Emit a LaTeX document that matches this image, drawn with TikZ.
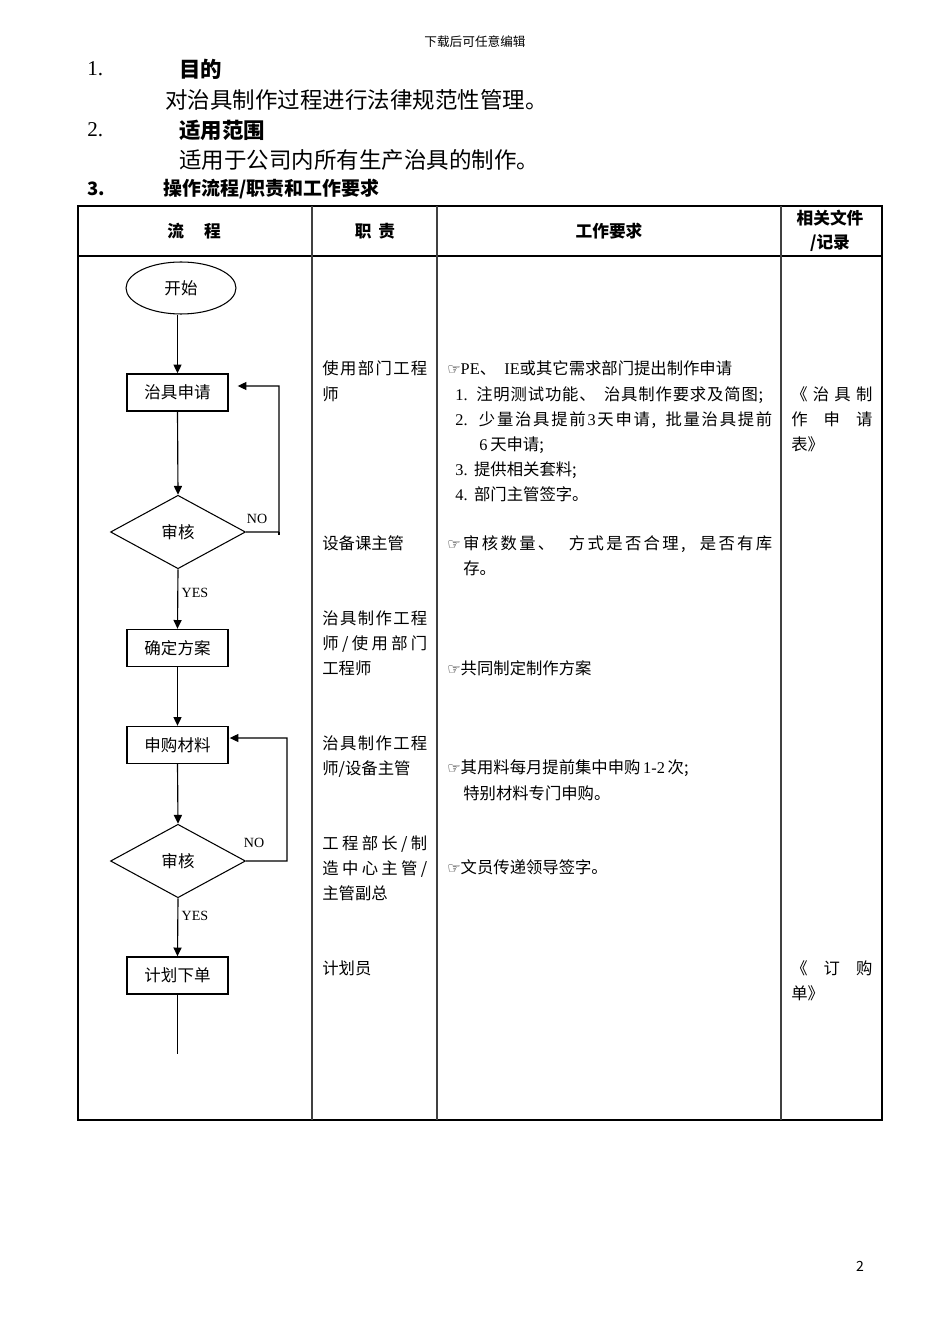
\documentclass[tikz,border=0pt]{standalone}
\usepackage{fontspec}
\setmainfont{Noto Sans CJK SC}
\newfontfamily\lat{Liberation Serif}
\newfontfamily\dv{DejaVu Sans}
\usetikzlibrary{shapes.geometric,arrows.meta}
\newcommand\fsz[1]{\fontsize{#1}{#1}\selectfont}
\newcommand\jl[2]{\makebox[#1][s]{\spaceskip=0pt plus 1fil\relax #2}}
\newcommand\hand{{\dv\fontsize{8.5pt}{8.5pt}\selectfont ☞}}
\begin{document}
\begin{tikzpicture}[x=0.02cm,y=-0.02cm,
  box/.style={draw,line width=0.8pt,rectangle,minimum width=2.02cm,minimum height=0.74cm,inner sep=0pt,font=\fsz{9.4pt}},
  oval/.style={draw,line width=0.6pt,ellipse,minimum width=2.2cm,minimum height=1.04cm,inner sep=0pt,font=\fsz{9.4pt}},
  dia/.style={draw,line width=0.6pt,diamond,minimum width=2.7cm,minimum height=1.47cm,inner sep=0pt,font=\fsz{9.4pt}},
  arr/.style={line width=0.65pt,-{Triangle[length=5pt,width=4.6pt]}},
  conn/.style={line width=0.65pt},
  t/.style={anchor=base west,inner sep=0pt,font=\fsz{9.3pt}},
  hd/.style={inner sep=0pt,font=\fsz{9.5pt}\bfseries},
  lbl/.style={inner sep=0pt,font=\lat\fsz{8pt}}]
\useasboundingbox (0,0) rectangle (950,1344);
\fill[white] (0,0) rectangle (950,1344);

% top texts
\node[inner sep=0pt,font=\fsz{7.2pt}] (dl) at (475,42) {下载后可任意编辑};
\node[anchor=west,inner sep=0pt,font=\lat\fsz{12pt}] (n1) at (87,69) {1.};
\node[anchor=west,inner sep=0pt,font=\fsz{12.2pt}\bfseries] (h1) at (179,69) {目的};
\node[anchor=west,inner sep=0pt,font=\fsz{12.8pt}] (p1) at (165,100) {对治具制作过程进行法律规范性管理。};
\node[anchor=west,inner sep=0pt,font=\lat\fsz{12pt}] (n2) at (87,130) {2.};
\node[anchor=west,inner sep=0pt,font=\fsz{12.2pt}\bfseries] (h2) at (179,130) {适用范围};
\node[anchor=west,inner sep=0pt,font=\fsz{12.8pt}] (p2) at (179,160) {适用于公司内所有生产治具的制作。};
\node[anchor=west,inner sep=0pt,font=\fsz{10.5pt}\bfseries] (n3) at (87,189) {3.};
\node[anchor=west,inner sep=0pt,font=\fsz{10.8pt}\bfseries] (h3) at (163,189) {操作流程/职责和工作要求};

% table
\draw[line width=0.8pt] (78,206) rectangle (882,1120);
\draw[line width=0.6pt] (78,256) -- (882,256);
\draw[line width=0.6pt,black!75] (312,206) -- (312,1120);
\draw[line width=0.6pt,black!75] (437,206) -- (437,1120);
\draw[line width=0.6pt,black!75] (781,206) -- (781,1120);

% header
\node[hd] (c1) at (194,231) {流\hspace{1.2em}程};
\node[hd] (c2) at (375,231) {职\hspace{0.4em}责};
\node[hd] (c3) at (609,231) {工作要求};
\node[hd] (c4a) at (830,218) {相关文件};
\node[hd] (c4b) at (830,243) {/记录};

% flowchart
\node[oval] (start) at (181,288) {开始};
\node[box] (apply) at (177.5,392.5) {治具申请};
\node[dia] (rev1) at (178,532) {审核};
\node[box] (plan) at (177.5,648) {确定方案};
\node[box] (buy) at (177.5,745) {申购材料};
\node[dia] (rev2) at (178,861) {审核};
\node[box] (order) at (177.5,975.5) {计划下单};
\coordinate (fin) at (177.5,1054);
\coordinate (loop1) at (279,386);
\coordinate (loop2) at (287,738);

\draw[arr] (apply.north |- start.south) -- (apply.north);
\draw[arr] (apply.south) -- (rev1.north);
\draw[arr] (rev1.south) -- (plan.north);
\draw[arr] (plan.south) -- (buy.north);
\draw[arr] (buy.south) -- (rev2.north);
\draw[arr] (rev2.south) -- (order.north);
\draw[conn] (order.south) -- (fin);
\draw[arr] (rev1.east) -| (loop1) -- ([xshift=0.18cm,yshift=0.13cm]apply.east);
\draw[conn] (loop1 |- rev1.east) -- ++(0,3);
\draw[arr] (rev2.east) -| (loop2) -- ([xshift=0.02cm,yshift=0.14cm]buy.east);

\node[lbl] (no1) at (257,519) {NO};
\node[lbl] (yes1) at (195,593) {YES};
\node[lbl] (no2) at (254,843) {NO};
\node[lbl] (yes2) at (195,916) {YES};

% column 2
\node[t] (r1a) at (322,375) {\jl{2.1cm}{使 用 部 门 工 程}};
\node[t] (r1b) at (322,400) {师};
\node[t] (r2a) at (322,549) {设备课主管};
\node[t] (r3a) at (322,624) {\jl{2.1cm}{治 具 制 作 工 程}};
\node[t] (r3b) at (322,649) {\jl{2.1cm}{师 / 使 用 部 门}};
\node[t] (r3c) at (322,674) {工程师};
\node[t] (r4a) at (322,749) {\jl{2.1cm}{治 具 制 作 工 程}};
\node[t] (r4b) at (322,774) {师/设备主管};
\node[t] (r5a) at (322,849) {\jl{2.1cm}{工 程 部 长 / 制}};
\node[t] (r5b) at (322,874) {\jl{2.1cm}{造 中 心 主 管 /}};
\node[t] (r5c) at (322,899) {主管副总};
\node[t] (r6a) at (322,974) {计划员};

% column 3
\node[t] (w1) at (447,375) {\hand{\lat PE}、\hspace{0.5em}{\lat IE}或其它需求部门提出制作申请};
\node[t] (w2) at (455,400) {\jl{6.16cm}{{\lat 1.}\hspace{0.3em} 注 明 测 试 功 能 、 \hspace{0.4em} 治 具 制 作 要 求 及 简 图 ;}};
\node[t] (w3) at (455,425) {\jl{6.34cm}{{\lat 2.}\hspace{0.3em} 少 量 治 具 提 前 {\lat 3} 天 申 请 , \hspace{0.3em} 批 量 治 具 提 前}};
\node[t] (w4) at (479,450) {{\lat 6\,}天申请;};
\node[t] (w5) at (455,475) {{\lat 3.}\hspace{0.4em}提供相关套料;};
\node[t] (w6) at (455,500) {{\lat 4.}\hspace{0.4em}部门主管签字。};
\node[t] (w7) at (447,549) {\jl{6.5cm}{\hand{} 审 核 数 量 、 \hspace{0.6em} 方 式 是 否 合 理 , \hspace{0.5em} 是 否 有 库}};
\node[t] (w8) at (463,574) {存。};
\node[t] (w9) at (447,674) {\hand 共同制定制作方案};
\node[t] (w10) at (447,773) {\hand 其用料每月提前集中申购{\lat\,1-2\,}次;};
\node[t] (w11) at (463,799) {特别材料专门申购。};
\node[t] (w12) at (447,873) {\hand 文员传递领导签字。};

% column 4
\node[t] (d1) at (791,400) {\jl{1.62cm}{《 治 具 制}};
\node[t] (d2) at (791,425) {\jl{1.62cm}{作 申 请}};
\node[t] (d3) at (791,450) {表》};
\node[t] (d4) at (791,974) {\jl{1.62cm}{《 订 购}};
\node[t] (d5) at (791,999) {单》};

\node[inner sep=0pt,font=\fsz{8pt}] (pg) at (860,1266) {2};
\end{tikzpicture}
\end{document}
